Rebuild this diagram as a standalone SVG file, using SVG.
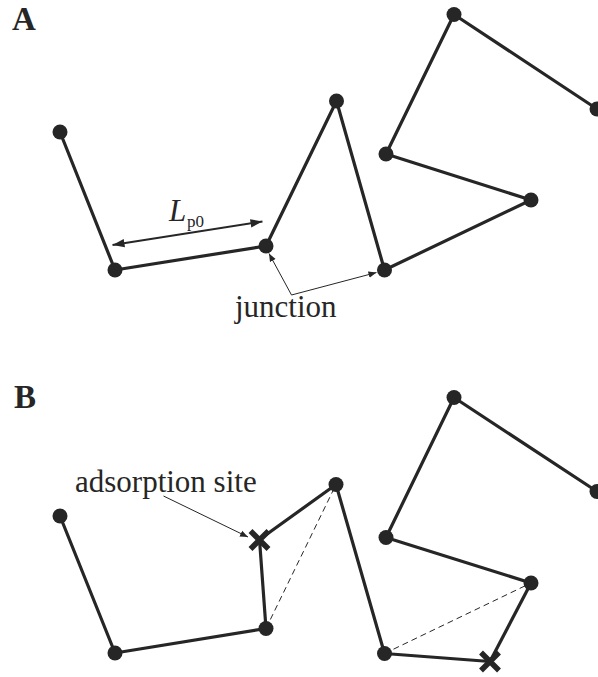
<svg xmlns="http://www.w3.org/2000/svg" width="598" height="677" viewBox="0 0 598 677">
<defs>
<style>
.seg{stroke:#262626;stroke-width:3.2;fill:none;stroke-linecap:round}
.dash{stroke:#262626;stroke-width:1;fill:none;stroke-dasharray:6 4}
.thin{stroke:#262626;stroke-width:1;fill:none}
.dim{stroke:#262626;stroke-width:2;fill:none}
.dot{fill:#262626}
.x{stroke:#262626;stroke-width:5.5;fill:none}
.lbl{font-family:"Liberation Serif",serif;font-size:31px;fill:#262626}
.pl{font-family:"Liberation Serif",serif;font-size:33px;font-weight:bold;fill:#262626}
</style>
<marker id="ah" viewBox="0 0 10 10" refX="10" refY="5" markerWidth="8" markerHeight="8" markerUnits="userSpaceOnUse" orient="auto-start-reverse"><path d="M0,1 L10,5 L0,9 z" fill="#262626"/></marker>
<marker id="ahb" viewBox="0 0 10 10" refX="10" refY="5" markerWidth="6" markerHeight="6" markerUnits="strokeWidth" orient="auto-start-reverse"><path d="M0,1.5 L10,5 L0,8.5 z" fill="#262626"/></marker>
</defs>

<text class="pl" x="12" y="30">A</text>
<text class="pl" x="14" y="408">B</text>

<g id="connectors">
<!-- Panel A -->
<line class="seg" x1="60" y1="132" x2="115" y2="270"/>
<line class="seg" x1="115" y1="270" x2="266" y2="246"/>
<line class="seg" x1="266" y1="246" x2="336.5" y2="101"/>
<line class="seg" x1="336.5" y1="101" x2="384.5" y2="270"/>
<line class="seg" x1="384.5" y1="270" x2="531" y2="200"/>
<line class="seg" x1="531" y1="200" x2="386" y2="154"/>
<line class="seg" x1="386" y1="154" x2="454" y2="14.5"/>
<line class="seg" x1="454" y1="14.5" x2="597" y2="109"/>
<line class="dim" x1="112.5" y1="245" x2="262.5" y2="221.5" marker-start="url(#ahb)" marker-end="url(#ahb)"/>
<polyline class="thin" points="269,253.5 291.5,295 376.5,272.5" marker-start="url(#ah)" marker-end="url(#ah)"/>
<!-- Panel B -->
<line class="seg" x1="60" y1="516" x2="115" y2="653"/>
<line class="seg" x1="115" y1="653" x2="266" y2="628.5"/>
<line class="seg" x1="266" y1="628.5" x2="259.5" y2="539.5"/>
<line class="seg" x1="259.5" y1="539.5" x2="336" y2="484.5"/>
<line class="seg" x1="336" y1="484.5" x2="384.5" y2="653.5"/>
<line class="seg" x1="384.5" y1="653.5" x2="490" y2="661.5"/>
<line class="seg" x1="490" y1="661.5" x2="531" y2="583"/>
<line class="seg" x1="531" y1="583" x2="386" y2="537.5"/>
<line class="seg" x1="386" y1="537.5" x2="454" y2="397.5"/>
<line class="seg" x1="454" y1="397.5" x2="597" y2="491.5"/>
<line class="dash" x1="266" y1="628.5" x2="336" y2="484.5"/>
<line class="dash" x1="384.5" y1="653.5" x2="531" y2="583"/>
<line class="thin" x1="163.5" y1="496" x2="248" y2="537" marker-end="url(#ah)"/>
</g>

<g id="nodesA">
<g id="a1"><circle class="dot" cx="60" cy="132" r="7.5"/></g>
<g id="a2"><circle class="dot" cx="115" cy="270" r="7.5"/></g>
<g id="a3"><circle class="dot" cx="266" cy="246" r="7.5"/></g>
<g id="a4"><circle class="dot" cx="336.5" cy="101" r="7.5"/></g>
<g id="a5"><circle class="dot" cx="384.5" cy="270" r="7.5"/></g>
<g id="a6"><circle class="dot" cx="531" cy="200" r="7.5"/></g>
<g id="a7"><circle class="dot" cx="386" cy="154" r="7.5"/></g>
<g id="a8"><circle class="dot" cx="454" cy="14.5" r="7.5"/></g>
<g id="a9"><circle class="dot" cx="597" cy="109" r="7.5"/></g>
</g>

<g id="nodesB">
<g id="b1"><circle class="dot" cx="60" cy="516" r="7.5"/></g>
<g id="b2"><circle class="dot" cx="115" cy="653" r="7.5"/></g>
<g id="b3"><circle class="dot" cx="266" cy="628.5" r="7.5"/></g>
<g id="bx1"><path class="x" d="M250.5,531 L268.5,549 M268.5,531 L250.5,549"/></g>
<g id="b4"><circle class="dot" cx="336" cy="484.5" r="7.5"/></g>
<g id="b5"><circle class="dot" cx="384.5" cy="653.5" r="7.5"/></g>
<g id="bx2"><path class="x" d="M481,652.5 L499,670.5 M499,652.5 L481,670.5"/></g>
<g id="b6"><circle class="dot" cx="531" cy="583" r="7.5"/></g>
<g id="b7"><circle class="dot" cx="386" cy="537.5" r="7.5"/></g>
<g id="b8"><circle class="dot" cx="454" cy="397.5" r="7.5"/></g>
<g id="b9"><circle class="dot" cx="597" cy="491.5" r="7.5"/></g>
</g>

<g id="labels">
<text class="lbl" x="169" y="221" font-style="italic">L</text>
<text class="lbl" x="187" y="227" style="font-size:17px">p0</text>
<text class="lbl" x="235" y="317">junction</text>
<text class="lbl" x="75" y="492">adsorption site</text>
</g>
</svg>
